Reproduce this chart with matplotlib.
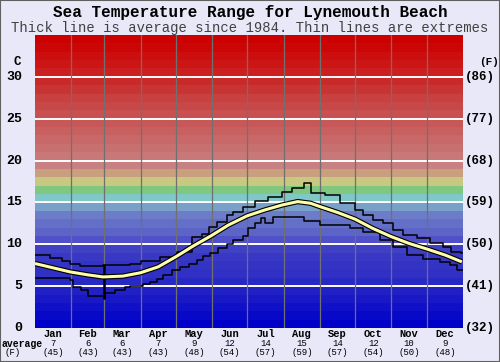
import matplotlib
matplotlib.use("Agg")
import matplotlib.pyplot as plt
from matplotlib.patches import Rectangle

# ── Data ────────────────────────────────────────────────────────────────
months = ["Jan", "Feb", "Mar", "Apr", "May", "Jun",
          "Jul", "Aug", "Sep", "Oct", "Nov", "Dec"]
avg_c = [7, 6, 6, 7, 9, 12, 14, 15, 14, 12, 10, 9]
avg_f = [45, 43, 43, 43, 48, 54, 57, 59, 57, 54, 50, 48]
month_start = [0, 31, 59, 90, 120, 151, 181, 212, 243, 273, 304, 334, 365]

# average (thick line): day of year, degC
avg_day = [0, 15, 30, 45, 58, 75, 90, 105, 120, 135, 150, 165, 181,
           196, 211, 224, 235, 243, 258, 273, 288, 304, 319, 335, 350, 364]
avg_temp = [7.7, 7.2, 6.7, 6.35, 6.1, 6.2, 6.6, 7.3, 8.5, 9.8, 11.0, 12.3, 13.4,
            14.1, 14.7, 15.1, 14.9, 14.5, 13.8, 13.0, 11.9, 10.9, 10.1, 9.4, 8.7, 7.9]

# extremes (thin stepped lines)
max_day = [0, 13, 23, 30, 38, 58, 58.6, 59.4, 81, 90, 107, 121, 134, 142,
           148, 155, 164, 169, 177, 188, 199, 211, 219, 229, 235, 247, 260,
           273, 280, 288, 297, 305, 314, 326, 337, 348, 355, 363, 365]
max_temp = [8.7, 8.4, 8.0, 7.6, 7.4, 7.5, 3.6, 7.5, 7.7, 8.0, 8.45, 9.1, 10.9, 11.2,
            12.1, 12.7, 13.5, 13.9, 14.4, 15.2, 15.7, 16.3, 16.7, 17.3, 16.1, 15.9, 14.9,
            14.1, 13.5, 12.9, 12.5, 11.7, 11.1, 10.7, 10.1, 9.7, 9.1, 8.9, 8.9]
min_day = [0, 30, 32, 39, 45, 58.6, 59.4, 60, 68, 77, 81, 92, 98, 104, 109, 117,
           124, 131, 138, 143, 149, 156, 164, 169, 177, 182, 188, 193, 196, 203,
           229, 243, 269, 280, 294, 305, 317, 331, 345, 354, 360, 365]
min_temp = [6.0, 5.7, 4.9, 4.5, 3.8, 3.5, 3.8, 4.2, 4.5, 4.9, 5.0, 5.2, 5.5, 5.9, 6.3, 6.9,
            7.25, 7.6, 8.1, 8.6, 8.9, 9.5, 10.0, 10.5, 11.0, 11.9, 12.6, 13.1, 12.5, 13.3,
            12.8, 12.3, 12.0, 11.5, 10.5, 9.7, 8.7, 8.3, 7.9, 7.5, 6.9, 6.9]

# colour of each 1 degree band, 0-1 C upwards
band_colors = [
    "#0000c8", "#0808c8", "#1010c8", "#1818c6", "#2020c4",
    "#2828c4", "#3030c4", "#3434c4", "#3838c4", "#4040c4",
    "#5050c8", "#5c64c8", "#6470c8", "#6c7cc8", "#78a0c8",
    "#80c8c8", "#80c880", "#c8c880", "#c8a080", "#c88080",
    "#c87878", "#c87070", "#c86868", "#c86060", "#c85858",
    "#c85050", "#c84848", "#c84040", "#c83434", "#c82a2a",
    "#cc2020", "#cc1616", "#cc0e0e", "#cc0606", "#cc0000",
]

left_ticks = [0, 5, 10, 15, 20, 25, 30]
right_labels = ["(32)", "(41)", "(50)", "(59)", "(68)", "(77)", "(86)"]

BG = "#e8e8f8"
MONO = "Liberation Mono"

fig = plt.figure(figsize=(5.0, 3.62), dpi=100, facecolor=BG)
ax = fig.add_axes([35 / 500, 1 - 328 / 362, 428 / 500, 293 / 362])
ax.set_xlim(0, 365)
ax.set_ylim(0, 35)
for s in ax.spines.values():
    s.set_visible(False)
ax.set_xticks([])
ax.set_yticks([])

# ── colour bands + grid ─────────────────────────────────────────────────
for i, c in enumerate(band_colors):
    ax.axhspan(i, i + 1, color=c, lw=0, zorder=0)
for t in left_ticks[1:]:
    ax.axhline(t, color="white", lw=1.4, zorder=1)
for d in month_start[1:-1]:
    ax.axvline(d, color="#707070", lw=0.9, zorder=1)

# ── curves ──────────────────────────────────────────────────────────────
ax.plot(max_day, max_temp, drawstyle="steps-post", color="black", lw=1.1, zorder=3)
ax.plot(min_day, min_temp, drawstyle="steps-post", color="black", lw=1.1, zorder=3)
ax.plot(avg_day, avg_temp, color="black", lw=3.8, zorder=4, solid_capstyle="butt")
ax.plot(avg_day, avg_temp, color="#ffffa8", lw=2.2, zorder=5, solid_capstyle="butt")

# ── axis labels ─────────────────────────────────────────────────────────
ytr = ax.get_yaxis_transform()
for t, fl in zip(left_ticks, right_labels):
    ax.text(-0.03, t, str(t), transform=ytr, ha="right", va="center",
            family=MONO, fontweight="bold", fontsize=9.5)
    ax.text(1.005, t, fl, transform=ytr, ha="left", va="center",
            family=MONO, fontweight="bold", fontsize=9)
ax.text(-0.042, 31.8, "C", transform=ytr, ha="center", va="center",
        family=MONO, fontweight="bold", fontsize=9)
ax.text(1.06, 31.8, "(F)", transform=ytr, ha="center", va="center",
        family=MONO, fontweight="bold", fontsize=8)

for m, c, f, a, b in zip(months, avg_c, avg_f, month_start[:-1], month_start[1:]):
    xm = (a + b) / 2
    x_fig = (35 + xm * 428 / 365) / 500
    fig.text(x_fig, 1 - 334 / 362, m, ha="center", va="center",
             family=MONO, fontweight="bold", fontsize=7.5)
    fig.text(x_fig, 1 - 344 / 362, str(c), ha="center", va="center",
             family=MONO, fontsize=6.5)
    fig.text(x_fig, 1 - 352.5 / 362, f"({f})", ha="center", va="center",
             family=MONO, fontsize=6.5)
fig.text(2 / 500, 1 - 344 / 362, "average", ha="left", va="center",
         family=MONO, fontweight="bold", fontsize=7)
fig.text(13 / 500, 1 - 352.5 / 362, "(F)", ha="center", va="center",
         family=MONO, fontsize=6.5)

# ── titles ──────────────────────────────────────────────────────────────
fig.text(0.5, 1 - 12.5 / 362, "Sea Temperature Range for Lynemouth Beach",
         ha="center", va="center", family=MONO, fontweight="bold", fontsize=11.5)
fig.text(0.5, 1 - 28 / 362,
         "Thick line is average since 1984. Thin lines are extremes",
         ha="center", va="center", family=MONO, fontsize=10, color="#404040")

fig.add_artist(Rectangle((0, 0), 1, 1, transform=fig.transFigure, fill=False,
                         edgecolor="#606060", lw=1.5))

fig.savefig("out.png", dpi=100, facecolor=BG)
